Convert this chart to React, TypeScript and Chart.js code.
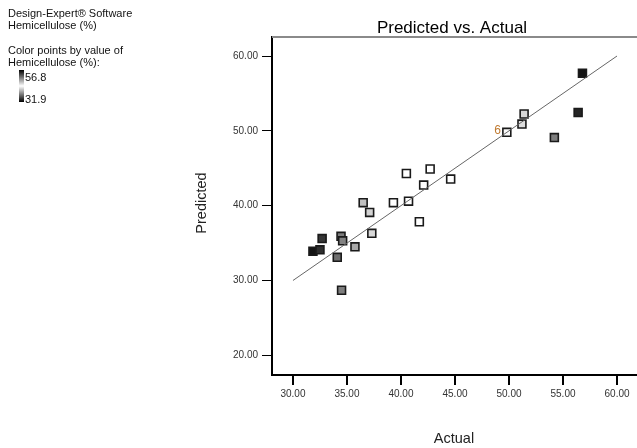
import React, { useEffect, useRef } from "react";
import { Chart, registerables } from "chart.js";

Chart.register(...registerables);

const actual = [31.85, 32.5, 32.7, 34.45, 34.6, 34.1, 35.74, 34.5, 37.3, 36.5, 37.1, 39.3, 40.7, 40.5, 42.7, 42.1, 44.6, 41.7, 49.8, 51.2, 51.4, 56.8, 56.4, 54.2];
const predicted = [33.9, 34.1, 35.6, 35.9, 35.3, 33.1, 34.5, 28.7, 36.3, 40.4, 39.1, 40.4, 40.6, 44.3, 44.9, 42.75, 43.55, 37.85, 49.8, 50.9, 52.25, 57.7, 52.45, 49.1];
const pointLabels = ["", "", "", "", "", "", "", "", "", "", "", "", "", "", "", "", "", "", "6", "", "", "", "", ""];
const fitLineX = [30, 60];
const fitLineY = [30, 60];
const xTicks = [30, 35, 40, 45, 50, 55, 60];
const yTicks = [20, 30, 40, 50, 60];
const colorRange = [31.9, 56.8];
const headerLines = ["Design-Expert® Software", "Hemicellulose (%)"];
const legendLines = ["Color points by value of", "Hemicellulose (%):"];

const FONT = "'Liberation Sans', Arial, sans-serif";

function grayFor(v: number): string {
  const t = (v - colorRange[0]) / (colorRange[1] - colorRange[0]);
  const d = Math.abs(2 * t - 1);
  const e = Math.max(0, Math.min(1, (d - 0.4) / 0.6));
  const k = 1 - Math.pow(e, 1.4);
  const g = Math.round(20 + 235 * k);
  return `rgb(${g},${g},${g})`;
}

const decorPlugin = {
  id: "decor",
  afterDatasetsDraw(chart: any) {
    const ctx = chart.ctx;
    const ca = chart.chartArea;
    const xs = chart.scales.x;
    const ys = chart.scales.y;
    ctx.save();
    // top gray border
    ctx.strokeStyle = "#8a8a8a";
    ctx.lineWidth = 2;
    ctx.beginPath();
    ctx.moveTo(ca.left, ca.top);
    ctx.lineTo(chart.width, ca.top);
    ctx.stroke();

    // point labels
    ctx.fillStyle = "#c07a30";
    ctx.font = `12px ${FONT}`;
    ctx.textAlign = "right";
    ctx.textBaseline = "middle";
    pointLabels.forEach((lab, i) => {
      if (!lab) return;
      const px = xs.getPixelForValue(actual[i]);
      const py = ys.getPixelForValue(predicted[i]);
      ctx.fillText(lab, px - 6, py - 2);
    });

    // title
    ctx.fillStyle = "#000";
    ctx.textAlign = "center";
    ctx.textBaseline = "alphabetic";
    ctx.font = `17px ${FONT}`;
    ctx.fillText("Predicted vs. Actual", 452, 33);

    // axis titles
    ctx.fillStyle = "#222";
    ctx.font = `14.5px ${FONT}`;
    ctx.fillText("Actual", 454, 443);
    ctx.save();
    ctx.translate(206, 203);
    ctx.rotate(-Math.PI / 2);
    ctx.fillText("Predicted", 0, 0);
    ctx.restore();

    // header text
    ctx.textAlign = "left";
    ctx.fillStyle = "#111";
    ctx.font = `11px ${FONT}`;
    ctx.fillText(headerLines[0], 8, 17);
    ctx.fillText(headerLines[1], 8, 29);
    ctx.fillText(legendLines[0], 8, 54);
    ctx.fillText(legendLines[1], 8, 66);

    // gradient bar
    const gx = 19, gy = 70, gw = 5, gh = 32;
    const grad = ctx.createLinearGradient(0, gy, 0, gy + gh);
    grad.addColorStop(0, "#000");
    grad.addColorStop(0.5, "#fff");
    grad.addColorStop(1, "#000");
    ctx.fillStyle = grad;
    ctx.fillRect(gx, gy, gw, gh);
    ctx.fillStyle = "#111";
    ctx.fillText(colorRange[1].toFixed(1), 25, 81);
    ctx.fillText(colorRange[0].toFixed(1), 25, 103);
    ctx.restore();
  },
};

export default function App() {
  const ref = useRef<HTMLCanvasElement>(null);
  useEffect(() => {
    if (!ref.current) return;
    const pts = actual.map((a, i) => ({ x: a, y: predicted[i] }));
    const line = fitLineX.map((x, i) => ({ x, y: fitLineY[i] }));
    const chart = new Chart(ref.current, {
      type: "scatter",
      data: {
        datasets: [
          {
            type: "line",
            data: line,
            borderColor: "#666",
            borderWidth: 1,
            pointRadius: 0,
            order: 0,
          } as any,
          {
            data: pts,
            pointStyle: "rect",
            pointRadius: 5.6,
            pointHoverRadius: 5.6,
            borderWidth: 1.6,
            borderColor: "#1a1a1a",
            backgroundColor: (c: any) => grayFor(actual[c.dataIndex] ?? 44),
            order: 1,
          },
        ],
      },
      options: {
        responsive: false,
        animation: false,
        devicePixelRatio: 1,
        layout: { autoPadding: false, padding: { top: 37, right: 0, left: 0, bottom: 0 } },
        plugins: {
          legend: { display: false },
          tooltip: { enabled: false },
          title: { display: false },
        },
        scales: {
          x: {
            type: "linear",
            min: 28.06,
            max: 61.85,
            afterBuildTicks: (s: any) => {
              s.ticks = xTicks.map((v) => ({ value: v }));
            },
            afterFit: (s: any) => {
              s.height = 73;
              s.paddingLeft = 0;
              s.paddingRight = 0;
            },
            ticks: {
              callback: (v: any) => Number(v).toFixed(2),
              font: { size: 10, family: FONT },
              color: "#333",
              padding: 3,
              maxRotation: 0,
              autoSkip: false,
            },
            grid: { drawOnChartArea: false, drawTicks: true, tickLength: 10, color: "#000", lineWidth: 2 },
            border: { display: true, color: "#000", width: 2 },
          },
          y: {
            type: "linear",
            min: 17.37,
            max: 62.54,
            afterBuildTicks: (s: any) => {
              s.ticks = yTicks.map((v) => ({ value: v }));
            },
            afterFit: (s: any) => {
              s.width = 272;
              s.paddingTop = 0;
              s.paddingBottom = 0;
            },
            ticks: {
              callback: (v: any) => Number(v).toFixed(2),
              font: { size: 10, family: FONT },
              color: "#333",
              padding: 4,
              autoSkip: false,
            },
            grid: { drawOnChartArea: false, drawTicks: true, tickLength: 10, color: "#000", lineWidth: 1 },
            border: { display: true, color: "#000", width: 2 },
          },
        },
      },
      plugins: [decorPlugin],
    });
    return () => chart.destroy();
  }, []);
  return (
    <div style={{ position: "fixed", left: 0, top: 0, width: 637, height: 448, background: "#fff", overflow: "hidden" }}>
      <canvas ref={ref} width={637} height={448} style={{ display: "block" }} />
    </div>
  );
}
